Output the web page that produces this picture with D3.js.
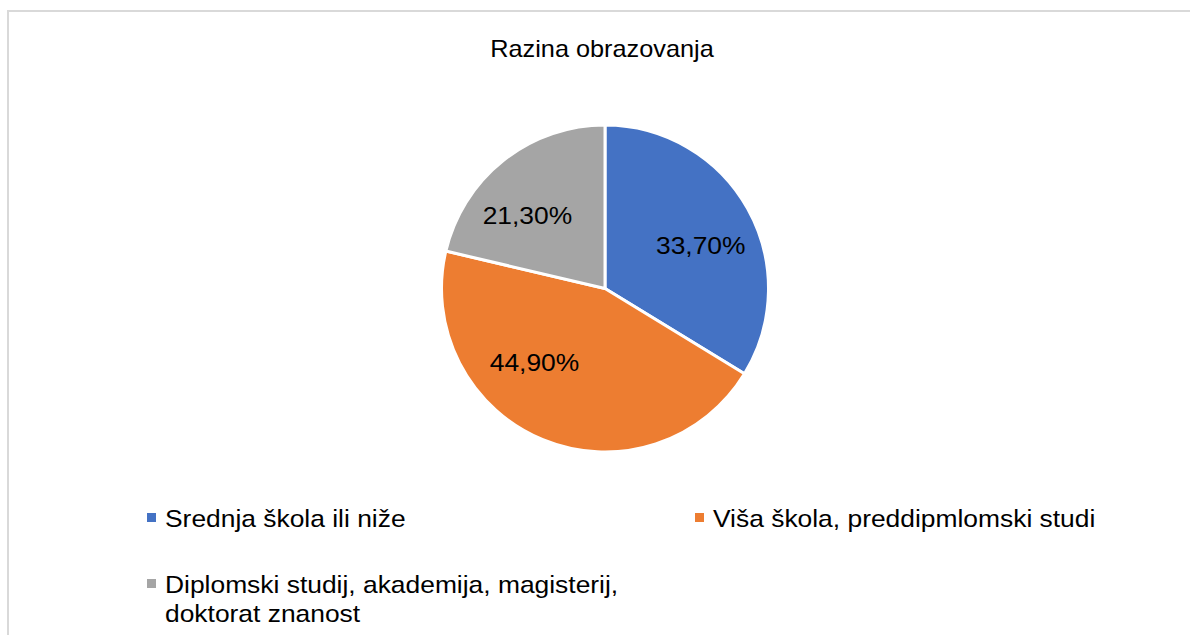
<!DOCTYPE html>
<html>
<head>
<meta charset="utf-8">
<script src="https://cdn.jsdelivr.net/npm/d3@7"></script>
<style>
  html, body { margin: 0; padding: 0; background: #fff; }
  svg { display: block; font-family: "Liberation Sans", Arial, sans-serif; }
</style>
</head>
<body>
<div id="chart"></div>
<script>
const title = "Razina obrazovanja"
const categories = [
  "Srednja škola ili niže",
  "Viša škola, preddipmlomski studi",
  "Diplomski studij, akademija, magisterij, doktorat znanost"
]
const shares = [33.7, 44.9, 21.3]
const valueLabels = ["33,70%", "44,90%", "21,30%"]
const colors = ["#4472C4", "#ED7D31", "#A5A5A5"]

const width = 1190
const height = 635
const cx = 605, cy = 288.5, radius = 163.5
const stretch = 1.1 // glyphs in the reference are a bit wider than Arial

// Excel's "best fit" label placement, as nudges from the arc centroid
const labelNudge = [[5, 8], [-31, -22], [-13, 8]]

const svg = d3.select("#chart")
  .append("svg")
  .attr("width", width)
  .attr("height", height)

// chart frame
svg.append("rect")
  .attr("x", 8).attr("y", 11)
  .attr("width", width + 10).attr("height", height + 10)
  .attr("fill", "#fff")
  .attr("stroke", "#d9d9d9")
  .attr("stroke-width", 2)

svg.append("text")
  .attr("transform", `translate(602,57) scale(${stretch},1)`)
  .attr("text-anchor", "middle")
  .attr("font-size", 23)
  .attr("fill", "#000")
  .text(title)

const pie = d3.pie().sort(null).value(d => d)
const arcs = pie(shares)
const arc = d3.arc().innerRadius(0).outerRadius(radius)
const labelArc = d3.arc().innerRadius(104).outerRadius(104)

const g = svg.append("g").attr("transform", `translate(${cx},${cy})`)

g.selectAll("path")
  .data(arcs)
  .join("path")
  .attr("d", arc)
  .attr("fill", (d, i) => colors[i])
  .attr("stroke", "#fff")
  .attr("stroke-width", 3)
  .attr("stroke-linejoin", "round")

g.selectAll("text.val")
  .data(arcs)
  .join("text")
  .attr("class", "val")
  .attr("transform", (d, i) => {
    const [x, y] = labelArc.centroid(d)
    return `translate(${x + labelNudge[i][0]},${y + labelNudge[i][1]}) scale(${stretch},1)`
  })
  .attr("text-anchor", "middle")
  .attr("dy", "0.36em")
  .attr("font-size", 24)
  .attr("fill", "#000")
  .text((d, i) => valueLabels[i])

// legend
const legendPos = [[147, 527], [695, 527], [147, 593]]
const legendLines = [
  [categories[0]],
  [categories[1]],
  ["Diplomski studij, akademija, magisterij,", "doktorat znanost"]
]

const legend = svg.append("g")
  .selectAll("g")
  .data(categories)
  .join("g")
  .attr("transform", (d, i) => `translate(${legendPos[i][0]},${legendPos[i][1]})`)

legend.append("rect")
  .attr("x", 0).attr("y", -14)
  .attr("width", 9).attr("height", 9)
  .attr("fill", (d, i) => colors[i])

legend.each(function (d, i) {
  const el = d3.select(this)
  legendLines[i].forEach((line, j) => {
    el.append("text")
      .attr("transform", `translate(18,${j * 29}) scale(${stretch},1)`)
      .attr("font-size", 24)
      .attr("fill", "#000")
      .text(line)
  })
})
</script>
</body>
</html>
